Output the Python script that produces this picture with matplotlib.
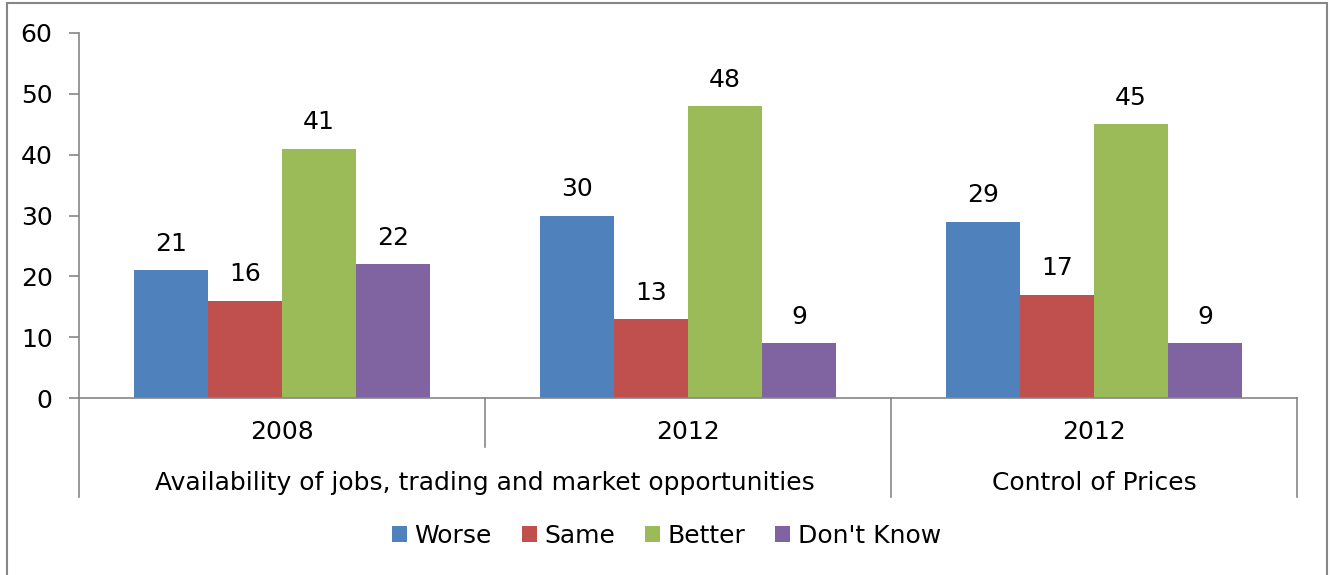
import matplotlib

matplotlib.use("Agg")
import matplotlib.pyplot as plt
import numpy as np
from matplotlib.patches import Rectangle

plt.rcParams["font.family"] = ["DejaVu Sans"]

years = ["2008", "2012", "2012"]
topics = ["Availability of jobs, trading and market opportunities", "Control of Prices"]
topic_spans = [(0, 1), (2, 2)]
series = ["Worse", "Same", "Better", "Don't Know"]
worse = [21, 30, 29]
same = [16, 13, 17]
better = [41, 48, 45]
dont_know = [22, 9, 9]
colors = ["#4F81BD", "#C0504D", "#9BBB59", "#8064A2"]
grey = "#868686"
fs = 18

W, H = 1333, 575
fig = plt.figure(figsize=(W / 100, H / 100), dpi=100)
ax = fig.add_axes([79 / W, 1 - 398 / H, (1297 - 79) / W, (398 - 33) / H])

x = np.arange(len(years))
bw = 74 / 406
for i, (name, vals, col) in enumerate(zip(series, [worse, same, better, dont_know], colors)):
    pos = x + (i - 1.5) * bw
    ax.bar(pos, vals, width=bw, color=col, label=name)
    for px, v in zip(pos, vals):
        ax.annotate(str(v), (px, v), xytext=(0, 19), textcoords="offset points",
                    ha="center", va="center", fontsize=fs)

ax.set_xlim(-0.5, 2.5)
ax.set_ylim(0, 60)
ax.set_yticks(range(0, 61, 10))
ax.tick_params(axis="y", length=7, color=grey, width=1.2, labelsize=fs, pad=12)
ax.set_xticks([])
for s in ["top", "right"]:
    ax.spines[s].set_visible(False)
for s in ["left", "bottom"]:
    ax.spines[s].set_color(grey)
    ax.spines[s].set_linewidth(1.2)

# multi-level category axis
ppu = 60 / 365
y_mid = -49 * ppu
y_low = -99 * ppu
for i, yr in enumerate(years):
    ax.text(i, -34 * ppu, yr, ha="center", va="center", fontsize=fs)
for b in [0.5]:
    ax.plot([b, b], [0, y_mid], color=grey, lw=1.2, clip_on=False)
for b in [-0.5, 1.5, 2.5]:
    ax.plot([b, b], [0, y_low], color=grey, lw=1.2, clip_on=False)
for t, (a, b) in zip(topics, topic_spans):
    ax.text((a + b) / 2, -85 * ppu, t, ha="center", va="center", fontsize=fs)

fig.legend(loc="center", bbox_to_anchor=(0.5, 1 - 536 / H), ncol=4, frameon=False,
           fontsize=fs, handlelength=0.6, handleheight=0.6, handletextpad=0.3,
           columnspacing=1.2)

fig.add_artist(Rectangle((7 / W, -0.02), 1320 / W, 1 - 3 / H + 0.02, transform=fig.transFigure,
                         fill=False, edgecolor=grey, lw=1.5))

fig.savefig("out.png", dpi=100)
